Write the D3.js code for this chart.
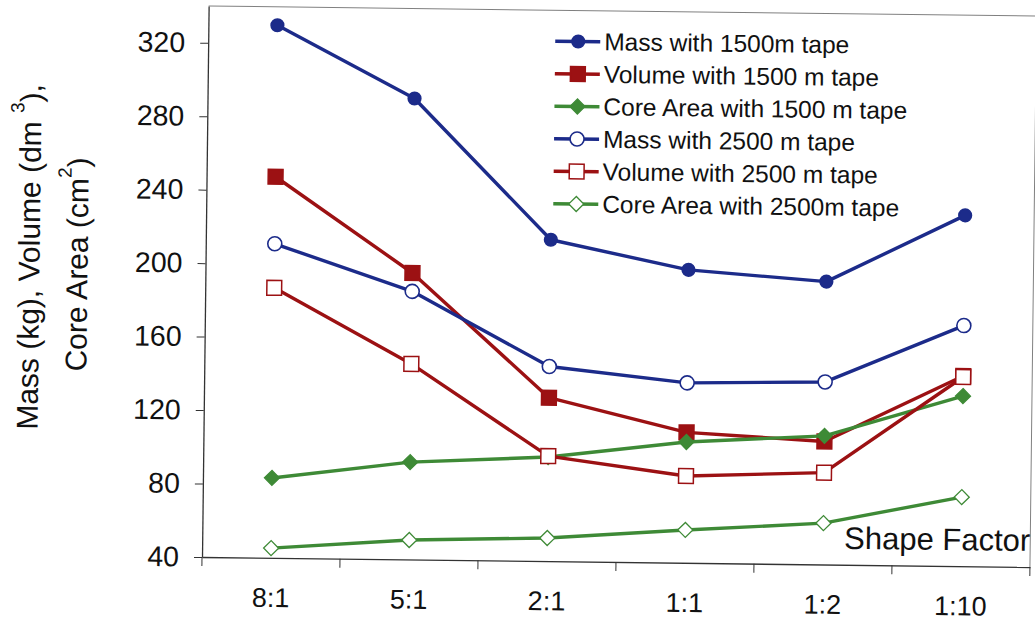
<!DOCTYPE html>
<html>
<head>
<meta charset="utf-8">
<script src="https://cdn.jsdelivr.net/npm/d3@7/dist/d3.min.js"></script>
<style>
  html, body { margin: 0; padding: 0; background: #fff; }
  svg { display: block; }
  text { font-family: "Liberation Sans", Arial, sans-serif; fill: #111; }
</style>
</head>
<body>
<svg id="chart" width="1035" height="624"></svg>
<script>
// Shape factor categories along the x axis
const categories = ["8:1", "5:1", "2:1", "1:1", "1:2", "1:10"];

// Series values (kg, dm^3, cm^2)
const mass1500   = [330, 291, 215, 199.5, 194, 231];
const volume1500 = [247.5, 196, 129, 111, 107, 143.5];
const core1500   = [83.5, 93, 96.7, 105.8, 110, 132.6];
const mass2500   = [211, 186, 146, 138, 139.4, 171];
const volume2500 = [187, 146.5, 97.2, 87.3, 90, 143];
const core2500   = [45.3, 50.6, 52.6, 57.9, 62.5, 77.6];

const seriesNames = [
  "Mass with 1500m tape",
  "Volume with 1500 m tape",
  "Core Area with 1500 m tape",
  "Mass with 2500 m tape",
  "Volume with 2500 m tape",
  "Core Area with 2500m tape"
];

const yTicks = [40, 80, 120, 160, 200, 240, 280, 320];

const BLUE = "#1c2b8a", RED = "#9c1113", GREEN = "#3e8a36";
const FONT = "Liberation Sans, Arial, sans-serif";

const series = [
  { name: seriesNames[0], values: mass1500,   color: BLUE,  shape: "circle",  filled: true },
  { name: seriesNames[1], values: volume1500, color: RED,   shape: "square",  filled: true },
  { name: seriesNames[2], values: core1500,   color: GREEN, shape: "diamond", filled: true },
  { name: seriesNames[3], values: mass2500,   color: BLUE,  shape: "circle",  filled: false },
  { name: seriesNames[4], values: volume2500, color: RED,   shape: "square",  filled: false },
  { name: seriesNames[5], values: core2500,   color: GREEN, shape: "diamond", filled: false }
];

const plotL = 202, plotR = 1030, plotT = 6, plotB = 557;

const svg = d3.select("#chart");
// the whole figure sits at a slight tilt
const g = svg.append("g").attr("transform", `rotate(0.69, ${plotL}, ${plotB})`);

const x = d3.scaleBand().domain(categories).range([plotL, plotR]).padding(0);
const y = d3.scaleLinear().domain([40, 340]).range([plotB, plotT]);

// plot frame (top and right)
g.append("path")
  .attr("d", `M${plotL},${plotT}H${plotR}V${plotB}`)
  .attr("fill", "none").attr("stroke", "#808080").attr("stroke-width", 1);

// y axis
const yAxis = g.append("g").attr("transform", `translate(${plotL},0)`)
  .call(d3.axisLeft(y).tickValues(yTicks).tickSize(8).tickPadding(15).tickSizeOuter(0));
yAxis.select(".domain").attr("stroke", "#333").attr("stroke-width", 1.3);
yAxis.selectAll(".tick line").attr("stroke", "#333");
yAxis.selectAll(".tick text").attr("font-size", 28.5).attr("fill", "#111")
  .style("font-family", FONT);

// x axis with ticks at category boundaries
const xAxis = g.append("g").attr("transform", `translate(0,${plotB})`)
  .call(d3.axisBottom(x).tickSize(0).tickPadding(30));
xAxis.select(".domain").attr("stroke", "#333").attr("stroke-width", 1.3);
xAxis.selectAll(".tick text").attr("font-size", 27).attr("fill", "#111")
  .style("font-family", FONT);
const bounds = categories.map(c => x(c)).concat([plotR]);
g.append("g").selectAll("line").data(bounds).join("line")
  .attr("x1", d => d).attr("x2", d => d)
  .attr("y1", plotB).attr("y2", plotB + 9)
  .attr("stroke", "#333").attr("stroke-width", 1);

// axis titles (two stacked vertical lines)
const yTitle = g.append("text")
  .attr("transform", "translate(36,259) rotate(-90)")
  .attr("text-anchor", "middle")
  .attr("font-size", 30);
yTitle.append("tspan").text("Mass (kg), Volume (dm ");
yTitle.append("tspan").attr("font-size", 19).attr("dy", -17).text("3");
yTitle.append("tspan").attr("dy", 17).text("),");

const yTitle2 = g.append("text")
  .attr("transform", "translate(84,266) rotate(-90)")
  .attr("text-anchor", "middle")
  .attr("font-size", 30);
yTitle2.append("tspan").text("Core Area (cm");
yTitle2.append("tspan").attr("font-size", 19).attr("dy", -17).text("2");
yTitle2.append("tspan").attr("dy", 17).text(")");

g.append("text").attr("x", 1030).attr("y", 541)
  .attr("text-anchor", "end").attr("font-size", 31).text("Shape Factor");

// marker drawing
function marker(sel, s) {
  const fill = s.filled ? s.color : "#fff";
  if (s.shape === "circle") {
    sel.append("circle").attr("r", s.filled ? 6.3 : 7)
      .attr("fill", fill).attr("stroke", s.color).attr("stroke-width", 1.6);
  } else if (s.shape === "square") {
    const h = 7.4;
    sel.append("rect").attr("x", -h).attr("y", -h).attr("width", 2 * h).attr("height", 2 * h)
      .attr("fill", fill).attr("stroke", s.color).attr("stroke-width", 1.5);
  } else {
    const h = 7.5;
    sel.append("path").attr("d", `M0,${-h}L${h},0L0,${h}L${-h},0Z`)
      .attr("fill", fill).attr("stroke", s.color).attr("stroke-width", 1.3);
  }
}

const line = d3.line().x((d, i) => x(categories[i]) + x.bandwidth() / 2).y(d => y(d));

series.forEach(s => {
  const sg = g.append("g");
  sg.append("path").attr("d", line(s.values))
    .attr("fill", "none").attr("stroke", s.color).attr("stroke-width", 3.4)
    .attr("stroke-linejoin", "round");
  s.values.forEach((v, i) => {
    const m = sg.append("g")
      .attr("transform", `translate(${x(categories[i]) + x.bandwidth() / 2},${y(v)})`);
    marker(m, s);
  });
});

// legend
const legend = g.append("g").attr("transform", "translate(549,37)");
series.forEach((s, i) => {
  const row = legend.append("g").attr("transform", `translate(0,${i * 32.5})`);
  row.append("line").attr("x1", 0).attr("x2", 45).attr("y1", 0).attr("y2", 0)
    .attr("stroke", s.color).attr("stroke-width", 3.4);
  const m = row.append("g").attr("transform", "translate(23,0)");
  marker(m, s);
  row.append("text").attr("x", 49).attr("y", 0).attr("dominant-baseline", "central")
    .attr("font-size", 24.5).text(s.name);
});
</script>
</body>
</html>
